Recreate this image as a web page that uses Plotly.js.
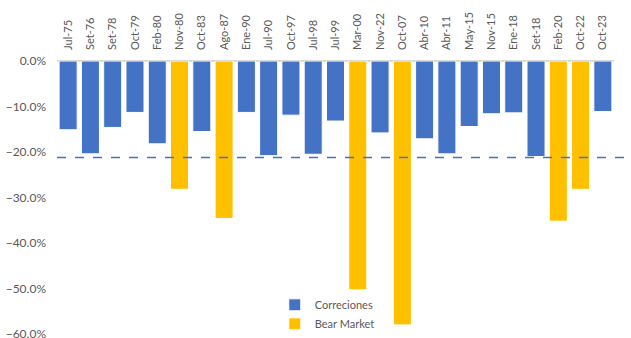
<!DOCTYPE html>
<html><head><meta charset="utf-8">
<script src="https://cdn.plot.ly/plotly-3.0.1.min.js"></script>
<style>html,body{margin:0;padding:0;background:#fff}#c{width:631px;height:338px}</style>
</head><body><div id="c"></div>
<script>
const categories = ["Jul-75","Set-76","Set-78","Oct-79","Feb-80","Nov-80","Oct-83","Ago-87","Ene-90","Jul-90","Oct-97","Jul-98","Jul-99","Mar-00","Nov-22","Oct-07","Abr-10","Abr-11","May-15","Nov-15","Ene-18","Set-18","Feb-20","Oct-22","Oct-23"];
const correcciones = [-0.151,-0.204,-0.146,-0.113,-0.182,null,-0.155,null,-0.113,-0.208,-0.119,-0.205,-0.132,null,-0.158,null,-0.171,-0.204,-0.144,-0.116,-0.114,-0.210,null,null,-0.111];
const bearMarket = [null,null,null,null,null,-0.282,null,-0.346,null,null,null,null,null,-0.503,null,-0.580,null,null,null,null,null,null,-0.352,-0.282,null];

const all = categories.map((c,i)=> correcciones[i]!==null ? correcciones[i] : bearMarket[i]);
const mean = all.reduce((a,b)=>a+b,0)/all.length;

const font = {family:"Lato, 'Open Sans', sans-serif", size:11, color:"#595959"};
const traces = [
  {type:"bar", name:"Correciones", x:categories, y:correcciones, marker:{color:"#4472C4", line:{color:"#ffffff", width:1}}},
  {type:"bar", name:"Bear Market", x:categories, y:bearMarket, marker:{color:"#FFC000", line:{color:"#ffffff", width:1}}}
];
const layout = {
  width:631, height:338,
  margin:{l:57, r:16.5, t:61, b:4, autoexpand:false},
  paper_bgcolor:"#fff", plot_bgcolor:"#fff",
  barmode:"overlay", bargap:0.19,
  font: font,
  showlegend:true,
  legend:{x:0.391, y:0.16, xanchor:"left", yanchor:"top", tracegroupgap:0, bgcolor:"rgba(0,0,0,0)", font:{family:font.family,size:11,color:"#595959"}},
  xaxis:{side:"top", tickangle:-90, automargin:false, showgrid:false, showline:false, ticks:"", ticklabelstandoff:10, tickfont:{family:font.family,size:11,color:"#595959"}, fixedrange:true},
  yaxis:{range:[-0.6,0], automargin:false, ticklabeloverflow:"allow", tickvals:[0,-0.1,-0.2,-0.3,-0.4,-0.5,-0.6], tickformat:".1%", showgrid:false, zeroline:true, zerolinecolor:"#d9d9d9", zerolinewidth:1.5, ticks:"", ticklabelstandoff:10, tickfont:{family:font.family,size:12,color:"#595959"}, fixedrange:true},
  shapes:[{type:"line", xref:"paper", yref:"y", x0:0, x1:1.022, y0:mean, y1:mean, line:{color:"#4472C4", width:1.5, dash:"dash"}}]
};
Plotly.newPlot("c", traces, layout, {displayModeBar:false, staticPlot:true});
</script></body></html>
